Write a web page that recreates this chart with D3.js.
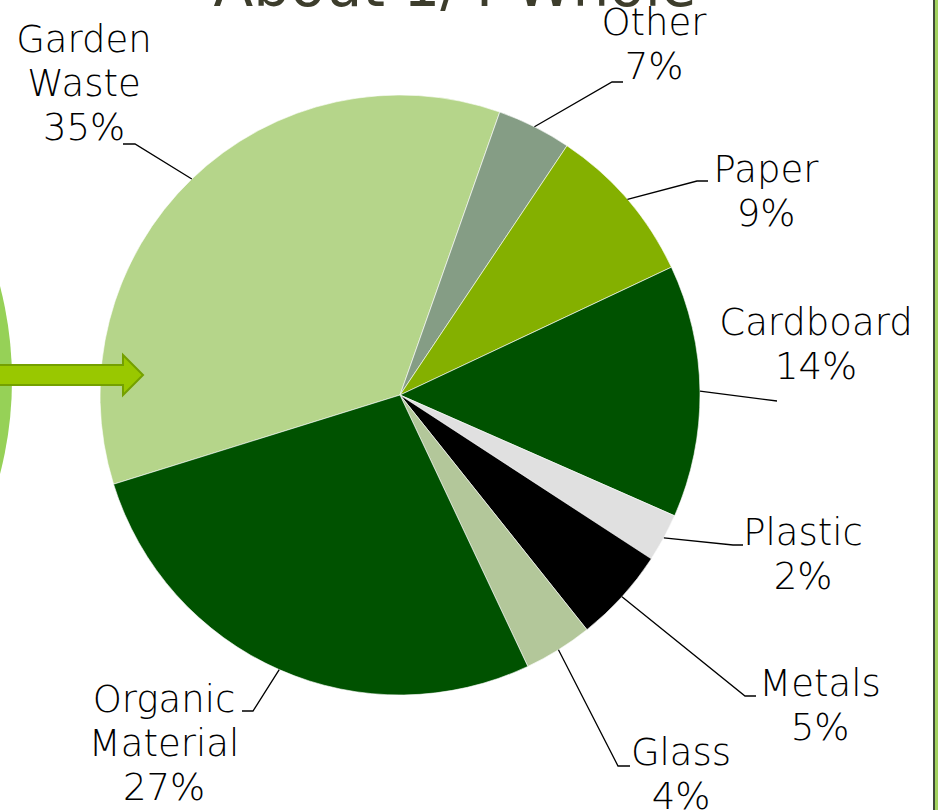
<!DOCTYPE html>
<html>
<head>
<meta charset="utf-8">
<script src="https://cdn.jsdelivr.net/npm/d3@7"></script>
<style>
  html, body { margin: 0; padding: 0; background: #fff; }
  svg { display: block; }
  .lbl { font-family: "DejaVu Sans", sans-serif; font-weight: 200; font-size: 37px; fill: #000; }
</style>
</head>
<body>
<svg id="chart"></svg>
<script>
var width = 938,
    height = 810;

// data (slice sizes), labels as printed
var categories = ["Garden Waste", "Other", "Paper", "Cardboard", "Plastic", "Metals", "Glass", "Organic Material"];
var shares = [35.2, 4.0, 8.6, 13.6, 2.6, 5.1, 3.7, 27.2];
var pctLabels = ["35%", "7%", "9%", "14%", "2%", "5%", "4%", "27%"];
var sliceColors = ["#b5d58a", "#859d85", "#84b000", "#005200", "#e0e0e0", "#000000", "#b3c79a", "#005200"];
var titleText = "About 1/4 Whole";

// label placement: text centre x, first baseline, elbow of leader, end of leader
var labelLayout = [
  {lines: ["Garden", "Waste"], x: 84,  y: 52,  ex: 135, ey: 144, tx: 123, ty: 144},
  {lines: ["Other"],           x: 654, y: 35,  ex: 612, ey: 82,  tx: 623, ty: 82},
  {lines: ["Paper"],           x: 766, y: 182, ex: 697, ey: 181, tx: 708, ty: 181},
  {lines: ["Cardboard"],       x: 816, y: 335, ex: 777, ey: 401, tx: 777, ty: 401},
  {lines: ["Plastic"],         x: 803, y: 545, ex: 733, ey: 545, tx: 743, ty: 545},
  {lines: ["Metals"],          x: 820, y: 696, ex: 745, ey: 696, tx: 756, ty: 696},
  {lines: ["Glass"],           x: 681, y: 765, ex: 618, ey: 766, tx: 630, ty: 766},
  {lines: ["Organic", "Material"], x: 164, y: 712, ex: 253, ey: 711, tx: 242, ty: 711}
];
var lineH = 44;

var cx = 400, cy = 395, radius = 300;
var startDeg = -107.3;

var svg = d3.select('#chart')
            .attr('width', width)
            .attr('height', height);

// left decoration: big green circle edge + arrow
svg.append('circle')
   .attr('cx', -362).attr('cy', 380).attr('r', 374)
   .attr('fill', '#96d157');

var g = svg.append('g')
           .attr('transform', 'translate(' + cx + ',' + cy + ')');

var pie = d3.pie()
            .sort(null)
            .startAngle(startDeg * Math.PI / 180)
            .endAngle(startDeg * Math.PI / 180 + 2 * Math.PI);

var arc = d3.arc()
            .innerRadius(0)
            .outerRadius(radius);

var arcsData = pie(shares);

g.selectAll('.slice')
 .data(arcsData)
 .enter()
 .append('path')
   .classed('slice', true)
   .attr('fill', (d, i) => sliceColors[i])
   .attr('stroke', '#ffffff')
   .attr('stroke-width', 0.6)
   .attr('d', arc);

// arrow drawn over the pie
var arrowPts = [[-2, 365], [123, 365], [123, 355], [143, 375], [123, 395], [123, 385], [-2, 385]];
svg.append('path')
   .attr('d', d3.line()(arrowPts) + 'Z')
   .attr('fill', '#99c800')
   .attr('stroke', '#74a000')
   .attr('stroke-width', 2);

// leader lines from slice middle on the rim
var leaders = svg.append('g');
arcsData.forEach(function(d, i) {
  var a = (d.startAngle + d.endAngle) / 2;
  var p0 = [cx + radius * Math.sin(a), cy - radius * Math.cos(a)];
  var L = labelLayout[i];
  leaders.append('path')
    .attr('d', d3.line()([p0, [L.ex, L.ey], [L.tx, L.ty]]))
    .attr('fill', 'none')
    .attr('stroke', '#000')
    .attr('stroke-width', 1.3);
});

// labels
var labels = svg.append('g');
labelLayout.forEach(function(L, i) {
  var t = labels.append('text')
                .classed('lbl', true)
                .attr('text-anchor', 'middle');
  var all = L.lines.concat([pctLabels[i]]);
  all.forEach(function(s, k) {
    t.append('tspan')
     .attr('x', L.x)
     .attr('y', L.y + k * lineH)
     .text(s);
  });
});

// title, cut off by the top edge (drawn under the labels)
svg.insert('text', 'g')
   .attr('x', 455)
   .attr('y', 6)
   .attr('text-anchor', 'middle')
   .attr('font-family', '"DejaVu Sans", sans-serif')
   .attr('font-size', 58)
   .attr('fill', '#3d3d2c')
   .text(titleText);

// right border strip
svg.append('rect')
   .attr('x', 935).attr('y', 0).attr('width', 3).attr('height', height)
   .attr('fill', '#a3d35f');
svg.append('rect')
   .attr('x', 933).attr('y', 0).attr('width', 2).attr('height', height)
   .attr('fill', '#3f4a38');
</script>
</body>
</html>
